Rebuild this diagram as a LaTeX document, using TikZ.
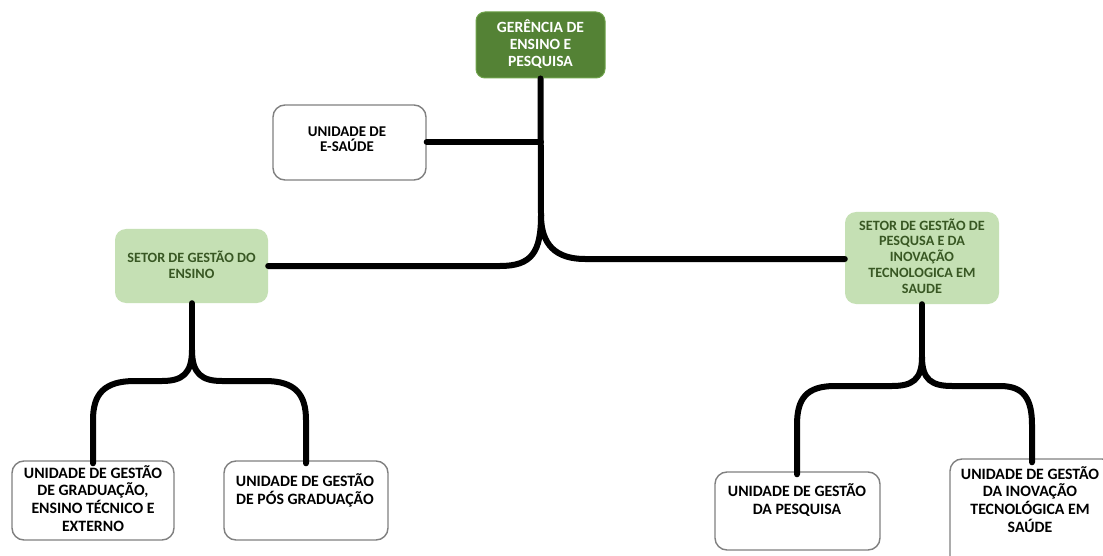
\documentclass[tikz,border=0pt]{standalone}
\usepackage{fontspec}
\setmainfont{Carlito}
\definecolor{topgreen}{HTML}{548235}
\definecolor{topborder}{HTML}{6FA34B}
\definecolor{lightgreen}{HTML}{C5E0B4}
\definecolor{darkgreentext}{HTML}{385723}
\definecolor{boxgrey}{HTML}{808080}
\tikzset{
  conn/.style={line width=6pt, line cap=round, line join=round, black},
  topbox/.style={rectangle, rounded corners=9pt, fill=topgreen, draw=topborder, line width=1pt, inner sep=0pt},
  setorbox/.style={rectangle, rounded corners=11pt, fill=lightgreen, draw=none, inner sep=0pt},
  wbox/.style={rectangle, rounded corners=12pt, fill=white, draw=boxgrey, line width=1.4pt, inner sep=0pt},
  toptxt/.style={text=white, font=\fontsize{15.6}{16.8}\selectfont\bfseries, align=center, inner sep=0pt},
  settxt/.style={text=darkgreentext, font=\fontsize{14.2}{15.8}\selectfont\bfseries, align=center, inner sep=0pt},
  smalltxt/.style={text=black, font=\fontsize{14.9}{15.5}\selectfont\bfseries, align=center, inner sep=0pt},
  bigtxt/.style={text=black, font=\fontsize{15.8}{17.8}\selectfont\bfseries, align=center, inner sep=0pt},
}
\begin{document}
\begin{tikzpicture}[x=1pt, y=-1pt]
\useasboundingbox (0,0) rectangle (1103,556);
\clip (0,0) rectangle (1103,556);
\fill[white] (0,0) rectangle (1103,556);

% boxes
\node[topbox, minimum width=129pt, minimum height=66pt] (top) at (540.5,45) {};
\node[toptxt] (topt) at (540.5,44) {GERÊNCIA DE\\ENSINO E\\PESQUISA};

\node[wbox, minimum width=153pt, minimum height=75pt] (esaude) at (349.5,142.5) {};
\node[smalltxt] (esaudet) at (347,139) {UNIDADE DE\\E-SAÚDE};

\node[setorbox, minimum width=153pt, minimum height=74pt] (setE) at (191.5,266) {};
\node[settxt] (setEt) at (191.5,265) {SETOR DE GESTÃO DO\\ENSINO};

\node[setorbox, minimum width=154pt, minimum height=92pt] (setP) at (922,258) {};
\node[settxt] (setPt) at (922,256) {SETOR DE GESTÃO DE\\PESQUSA E DA\\INOVAÇÃO\\TECNOLOGICA EM\\SAUDE};

\node[wbox, minimum width=162pt, minimum height=79pt] (b1) at (93,500.5) {};
\node[bigtxt] (b1t) at (93,498.5) {UNIDADE DE GESTÃO\\DE GRADUAÇÃO,\\ENSINO TÉCNICO E\\EXTERNO};

\node[wbox, minimum width=164pt, minimum height=79pt] (b2) at (306,500.5) {};
\node[bigtxt] (b2t) at (305,490) {UNIDADE DE GESTÃO\\DE PÓS GRADUAÇÃO};

\node[wbox, minimum width=165pt, minimum height=78pt] (b3) at (797.5,511) {};
\node[bigtxt] (b3t) at (797,500) {UNIDADE DE GESTÃO\\DA PESQUISA};

\node[wbox, minimum width=164pt, minimum height=112pt] (b4) at (1032,515) {};
\node[bigtxt] (b4t) at (1030,499.5) {UNIDADE DE GESTÃO\\DA INOVAÇÃO\\TECNOLÓGICA EM\\SAÚDE};

% main brace
\coordinate (mfork) at (541,215);
\coordinate (mjoin) at (541,142);
\draw[conn] (top.south) -- (mfork);
\draw[conn] (esaude.east |- mjoin) -- (mjoin);
\draw[conn] (mfork) .. controls (541,252) and (532,266) .. (500,266) -- (setE.east);
\draw[conn] (mfork) .. controls (541,245) and (556,259) .. (585,259) -- (setP.west |- 0,259);

% left bottom brace
\coordinate (lfork) at (192,350);
\draw[conn] (setE.south -| lfork) -- (lfork);
\draw[conn] (lfork) .. controls (192,374) and (182,381) .. (162,381) -- (135,381)
  .. controls (104,381) and (93,394) .. (93,420) -- ([yshift=-3pt]b1.north);
\draw[conn] (lfork) .. controls (192,374) and (202,381) .. (222,381) -- (265,381)
  .. controls (295,381) and (306,394) .. (306,420) -- ([yshift=-3pt]b2.north -| 306,0);

% right bottom brace
\coordinate (rfork) at (922,357);
\draw[conn] (setP.south) -- (rfork);
\draw[conn] (rfork) .. controls (922,380) and (912,386) .. (892,386) -- (835,386)
  .. controls (806,386) and (797,399) .. (797,425) -- ([yshift=-3pt]b3.north -| 797,0);
\draw[conn] (rfork) .. controls (922,380) and (932,386) .. (952,386) -- (1000,386)
  .. controls (1024,386) and (1032,399) .. (1032,425) -- ([yshift=-4pt]b4.north);
\end{tikzpicture}
\end{document}
